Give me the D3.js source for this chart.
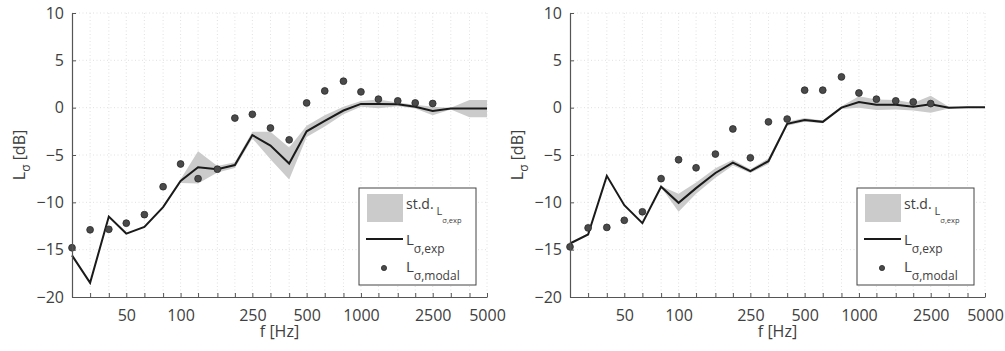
<!DOCTYPE html>
<html>
<head>
<meta charset="utf-8">
<script src="https://cdn.jsdelivr.net/npm/d3@7"></script>
<style>
  body { margin: 0; background: #fff; }
  text { font-family: "Open Sans", sans-serif; fill: #404040; }
</style>
</head>
<body>
<script>
const svgWidth = 1005;
const svgHeight = 351;

// third-octave band centre frequencies
const bands = [25, 31.5, 40, 50, 63, 80, 100, 125, 160, 200, 250, 315, 400, 500,
               630, 800, 1000, 1250, 1600, 2000, 2500, 3150, 4000, 5000];
const xLabels = [50, 100, 250, 500, 1000, 2500, 5000];
const yTicks = [-20, -15, -10, -5, 0, 5, 10];

// left panel
const expLeft = [-15.6, -18.5, -11.5, -13.3, -12.6, -10.5, -7.75, -6.3, -6.5, -6.06, -2.9, -4.0,
                 -5.9, -2.5, -1.4, -0.3, 0.4, 0.4, 0.35, 0.1, -0.35, -0.1, -0.1, -0.1];
const stdLeft = [null, null, null, null, null, null, 0.2, 1.7, 0.35, 0.3, 0.35, 1.45,
                 1.7, 0.6, 0.6, 0.4, 0.3, 0.45, 0.2, 0.2, 0.45, 0.1, 0.9, 0.9];
const modalLeft = [-14.8, -12.9, -12.85, -12.2, -11.3, -8.35, -5.95, -7.5, -6.5, -1.1, -0.7, -2.15,
                   -3.4, 0.5, 1.77, 2.8, 1.67, 0.9, 0.72, 0.5, 0.44];

// right panel
const expRight = [-14.35, -13.4, -7.2, -10.3, -12.2, -8.35, -10.05, -8.5, -6.9, -5.8, -6.7, -5.65,
                  -1.7, -1.3, -1.5, 0, 0.6, 0.3, 0.3, 0.1, 0.35, 0, 0.05, 0.05];
const stdRight = [null, null, null, null, null, 0.05, 0.95, 0.6, 0.5, 0.3, 0.2, 0.3,
                  0.2, 0.2, 0.15, 0.15, 0.6, 0.55, 0.5, 0.4, 0.9, 0.1, 0, 0];
const modalRight = [-14.7, -12.7, -12.65, -11.9, -11.0, -7.5, -5.5, -6.35, -4.9, -2.25, -5.3, -1.5,
                    -1.2, 1.85, 1.85, 3.25, 1.55, 0.9, 0.72, 0.6, 0.43];

const svg = d3.select('body')
              .append('svg')
              .attr('width', svgWidth)
              .attr('height', svgHeight);

function drawPanel(left, exp, std, modal) {
  const right = left + 415;
  const x = d3.scaleLog().domain([25, 5000]).range([left, right]);
  const y = d3.scaleLinear().domain([-20, 10]).range([297, 13]);
  const g = svg.append('g');

  // dotted grid
  g.selectAll('.vgrid')
   .data(bands.slice(1))
   .enter()
   .append('line')
   .attr('x1', d => x(d)).attr('x2', d => x(d))
   .attr('y1', y(10)).attr('y2', y(-20))
   .attr('stroke', '#d9d9d9')
   .attr('stroke-width', 0.8)
   .attr('stroke-dasharray', '1,2.5');
  g.selectAll('.hgrid')
   .data(yTicks.slice(1))
   .enter()
   .append('line')
   .attr('x1', left).attr('x2', right)
   .attr('y1', d => y(d)).attr('y2', d => y(d))
   .attr('stroke', '#d9d9d9')
   .attr('stroke-width', 0.8)
   .attr('stroke-dasharray', '1,2.5');

  // std band
  const bandData = bands.map((f, i) => ({f: f, m: exp[i], s: std[i]}))
                        .filter(d => d.s !== null);
  g.append('path')
   .datum(bandData)
   .attr('fill', '#cbcbcb')
   .attr('d', d3.area()
                .x(d => x(d.f))
                .y0(d => y(d.m - d.s))
                .y1(d => y(d.m + d.s)));

  // measured line
  g.append('path')
   .datum(bands.map((f, i) => [f, exp[i]]))
   .attr('fill', 'none')
   .attr('stroke', '#1a1a1a')
   .attr('stroke-width', 2)
   .attr('d', d3.line().x(d => x(d[0])).y(d => y(d[1])));

  // modal points
  g.selectAll('.dot')
   .data(modal)
   .enter()
   .append('circle')
   .attr('cx', (d, i) => x(bands[i]))
   .attr('cy', d => y(d))
   .attr('r', 3.4)
   .attr('fill', '#4a4a4a')
   .attr('stroke', '#2a2a2a')
   .attr('stroke-width', 0.8);

  // axes
  const yAxis = d3.axisLeft(y)
                  .tickValues(yTicks)
                  .tickSizeInner(-4)
                  .tickSizeOuter(0)
                  .tickPadding(8);
  const xAxis = d3.axisBottom(x)
                  .tickValues(bands)
                  .tickFormat(d => xLabels.includes(d) ? d : '')
                  .tickSizeInner(-4)
                  .tickSizeOuter(0)
                  .tickPadding(13);

  const ya = g.append('g')
              .attr('transform', `translate(${left},0)`)
              .call(yAxis);
  const xa = g.append('g')
              .attr('transform', `translate(0,${y(-20)})`)
              .call(xAxis);
  [ya, xa].forEach(a => {
    a.select('.domain').attr('stroke', '#555').attr('stroke-width', 1.2);
    a.selectAll('.tick line').attr('stroke', '#555').attr('stroke-width', 1);
    a.selectAll('.tick text')
     .style('font-family', '"Open Sans", sans-serif')
     .style('font-size', '16px')
     .attr('fill', '#404040');
  });

  // axis titles
  const yl = g.append('text')
              .attr('transform', `translate(${left - 47},155) rotate(-90)`)
              .attr('text-anchor', 'middle')
              .style('font-size', '16px');
  yl.append('tspan').text('L');
  yl.append('tspan').attr('dy', 5).style('font-size', '12px').text('σ');
  yl.append('tspan').attr('dy', -5).text(' [dB]');

  g.append('text')
   .attr('x', (left + right) / 2)
   .attr('y', 337)
   .attr('text-anchor', 'middle')
   .style('font-size', '16px')
   .text('f [Hz]');

  // legend
  const lx = right - 128;
  const lg = g.append('g').attr('transform', `translate(${lx},188)`);
  lg.append('rect')
    .attr('width', 117).attr('height', 97)
    .attr('fill', '#fff')
    .attr('stroke', '#444')
    .attr('stroke-width', 1);
  lg.append('rect')
    .attr('x', 8).attr('y', 6)
    .attr('width', 36).attr('height', 28)
    .attr('fill', '#cbcbcb');
  const t1 = lg.append('text').attr('x', 47).attr('y', 21).style('font-size', '14px');
  t1.append('tspan').text('st.d.');
  t1.append('tspan').attr('dx', 3).attr('dy', 6).style('font-size', '11px').text('L');
  t1.append('tspan').attr('dy', 8).style('font-size', '7.5px').text('σ,exp');

  lg.append('line')
    .attr('x1', 7).attr('x2', 44)
    .attr('y1', 51).attr('y2', 51)
    .attr('stroke', '#1a1a1a').attr('stroke-width', 2);
  const t2 = lg.append('text').attr('x', 47).attr('y', 57).style('font-size', '15px');
  t2.append('tspan').text('L');
  t2.append('tspan').attr('dy', 8).style('font-size', '12px').text('σ,exp');

  lg.append('circle')
    .attr('cx', 25).attr('cy', 80)
    .attr('r', 2.6)
    .attr('fill', '#4a4a4a')
    .attr('stroke', '#2a2a2a')
    .attr('stroke-width', 0.8);
  const t3 = lg.append('text').attr('x', 47).attr('y', 84).style('font-size', '15px');
  t3.append('tspan').text('L');
  t3.append('tspan').attr('dy', 8).style('font-size', '12px').text('σ,modal');
}

drawPanel(72, expLeft, stdLeft, modalLeft);
drawPanel(570, expRight, stdRight, modalRight);
</script>
</body>
</html>
